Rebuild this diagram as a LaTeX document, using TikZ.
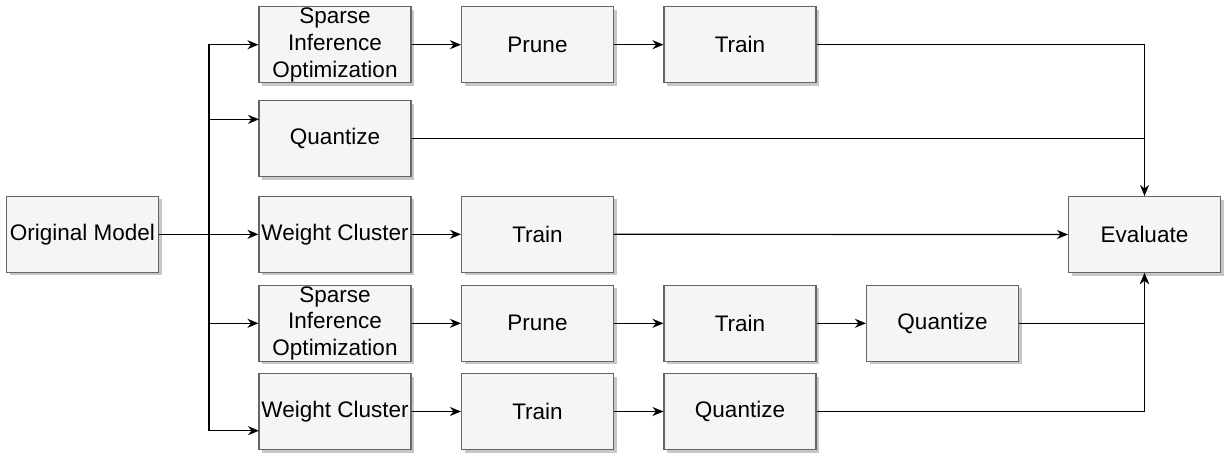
\documentclass[tikz,border=0pt]{standalone}
\usepackage{fontspec}
\setmainfont{Liberation Sans}
\usetikzlibrary{arrows.meta,shadows}
\definecolor{boxfill}{HTML}{F5F5F5}
\definecolor{boxline}{HTML}{666666}
\tikzset{
  box/.style={draw=boxline, line width=1.1pt, fill=boxfill, minimum width=152pt, minimum height=76pt,
    inner sep=0pt, align=center, font=\fontsize{22.5}{26.8}\selectfont,
    drop shadow={shadow xshift=3pt, shadow yshift=-3pt, fill=black, opacity=0.22}},
  conn/.style={line width=1.2pt, draw=black},
  arr/.style={conn, -{Stealth[length=11pt,width=9pt,inset=3.5pt]}}
}
\begin{document}
\begin{tikzpicture}[x=1pt,y=-1pt]
\useasboundingbox (0,0) rectangle (1228,455);
% nodes
\node[box] (orig) at (82.5,234.3) {Original Model};
\node[box] (s1) at (335,44.7) {Sparse\\Inference\\Optimization};
\node[box] (q1) at (335,138.5) {Quantize};
\node[box] (w1) at (335,234.3) {Weight Cluster};
\node[box] (s2) at (335,323.3) {Sparse\\Inference\\Optimization};
\node[box] (w2) at (335,411.5) {Weight Cluster};
\node[box] (p1) at (537.5,44.7) {Prune};
\node[box] (t2) at (537.5,234.3) {Train};
\node[box] (p2) at (537.5,323.3) {Prune};
\node[box] (t4) at (537.5,411.5) {Train};
\node[box] (t1) at (740,44.7) {Train};
\node[box] (t3) at (740,323.3) {Train};
\node[box] (q3) at (740,411.5) {Quantize};
\node[box] (q2) at (942.5,323.3) {Quantize};
\node[box] (ev) at (1144.5,234.5) {Evaluate};
% trunk
\coordinate (tr) at (209,234.3);
\coordinate (q1in) at (259,119.3);
\coordinate (w2in) at (259,430.7);
\draw[conn] (orig.east) -- (tr);
\draw[arr] (tr) |- (s1.west);
\draw[arr] (tr) |- (q1in);
\draw[arr] (tr) -- (w1.west);
\draw[arr] (tr) |- (s2.west);
\draw[arr] (tr) |- (w2in);
% chains
\draw[arr] (s1.east) -- (p1.west);
\draw[arr] (p1.east) -- (t1.west);
\draw[arr] (w1.east) -- (t2.west);
\draw[arr] (s2.east) -- (p2.west);
\draw[arr] (p2.east) -- (t3.west);
\draw[arr] (t3.east) -- (q2.west);
\draw[arr] (w2.east) -- (t4.west);
\draw[arr] (t4.east) -- (q3.west);
% to evaluate
\draw[arr] (t1.east) -| (ev.north);
\draw[conn] (q1.east) -- (ev.north |- q1.east);
\draw[arr] (t2.east) -- (ev.west);
\draw[arr] (q2.east) -| (ev.south);
\draw[arr] (q3.east) -| (ev.south);
\end{tikzpicture}
\end{document}
